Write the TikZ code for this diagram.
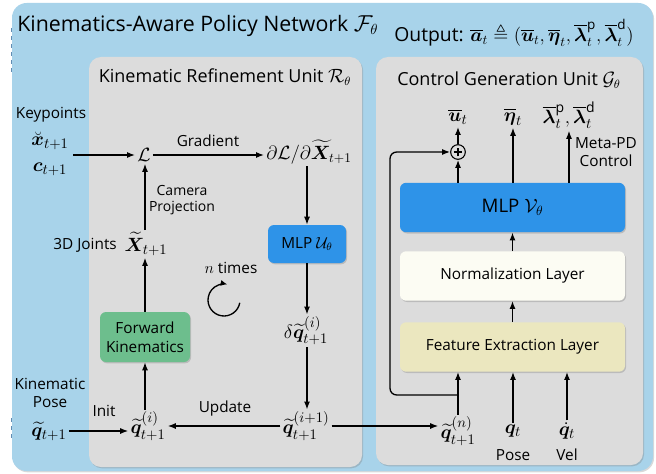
\documentclass[tikz,border=0pt]{standalone}
\usepackage{amsmath,amssymb,bm}
\usepackage{fontspec}
\setmainfont{Open Sans}
\usetikzlibrary{arrows.meta,shadows,calc}

\definecolor{outerblue}{HTML}{A8D3EA}
\definecolor{panelgray}{HTML}{DCDCDC}
\definecolor{mlpblue}{HTML}{2E93E8}
\definecolor{fkgreen}{HTML}{6DBE8D}
\definecolor{normcream}{HTML}{FCFCF3}
\definecolor{featyellow}{HTML}{EBE7BF}
\definecolor{dashblue}{HTML}{3A6FA0}

\newcommand{\tq}{\widetilde{\bm q}}
\newcommand{\ob}[1]{\overline{\bm #1}}

\tikzset{
  every node/.style={font=\fontsize{11.5}{13.5}\selectfont, inner sep=1.5pt},
  mathnode/.style={font=\fontsize{15}{17}\selectfont},
  arr/.style={line width=1pt, -{Latex[length=6pt,width=4.5pt]}},
  panel/.style={fill=panelgray, draw=none, rounded corners=9pt,
    drop shadow={opacity=0.35, shadow xshift=0.8pt, shadow yshift=-1pt}},
  block/.style={draw=none, rounded corners=4.5pt, align=center,
    drop shadow={opacity=0.35, shadow xshift=0.8pt, shadow yshift=-1pt}},
  layer/.style={block, minimum width=168.75pt, minimum height=37pt},
  boxfont/.style={font=\fontsize{11.5}{14}\selectfont},
}

\begin{document}
\begin{tikzpicture}[x=0.75pt, y=-0.75pt]
\useasboundingbox (0,0) rectangle (656,474);

% outer frame
\draw[dashblue!80, dashed, line width=0.7pt] (11,28) -- (11,72);
\draw[dashblue!80, dashed, line width=0.7pt] (11,418) -- (11,442);
\fill[outerblue, rounded corners=11pt,
  drop shadow={opacity=0.3, shadow xshift=0.8pt, shadow yshift=-1pt}]
  (12,3) rectangle (653,471);
\node[anchor=west, font=\fontsize{16}{19}\selectfont] (title) at (15,26)
  {Kinematics-Aware Policy Network $\mathcal{F}_\theta$};
\node[font=\fontsize{14.5}{16}\selectfont] (output) at (514,33)
  {Output: $\ob{a}_t \triangleq (\ob{u}_t, \ob{\eta}_t, \ob{\lambda}^{\mathrm{p}}_t, \ob{\lambda}^{\mathrm{d}}_t)$};

% panels
\path[panel] (89,57) rectangle (362,467);
\path[panel] (376,57) rectangle (643,465);
\node[font=\fontsize{13.5}{15}\selectfont] (rtitle) at (225,77)
  {Kinematic Refinement Unit $\mathcal{R}_\theta$};
\node[font=\fontsize{13.5}{15}\selectfont] (gtitle) at (509,80)
  {Control Generation Unit $\mathcal{G}_\theta$};

% ---- Kinematic refinement unit ----
\node (kplabel) at (51,115) {Keypoints};
\node[mathnode] (xk) at (50,141) {$\breve{\bm x}_{t+1}$};
\node[mathnode] (ck) at (50,169) {$\bm c_{t+1}$};
\coordinate (kpout) at (73,155);
\node[mathnode] (L) at (144,155) {$\mathcal{L}$};
\node[font=\fontsize{14.5}{16}\selectfont] (dLdX) at (309,152) {$\partial\mathcal{L}/\partial\widetilde{\bm X}_{t+1}$};
\node (gradlbl) at (208,141) {Gradient};
\node[block, fill=mlpblue, minimum width=58.5pt, minimum height=28.5pt, boxfont]
  (mlpU) at (307,244) {MLP $\mathcal{U}_\theta$};
\node[mathnode] (dq) at (306,331) {$\delta\tq^{(i)}_{t+1}$};
\node[mathnode] (qip1) at (306,426) {$\tq^{(i+1)}_{t+1}$};
\node[mathnode] (qi) at (148,426) {$\tq^{(i)}_{t+1}$};
\node[mathnode] (qinit) at (49,431) {$\tq_{t+1}$};
\node[align=center] (poselbl) at (50,393) {Kinematic\\Pose};
\node (initlbl) at (104,411) {Init};
\node (updlbl) at (225,409) {Update};
\node[block, fill=fkgreen, minimum width=67.5pt, minimum height=37.5pt, boxfont]
  (fk) at (145,337) {Forward\\Kinematics};
\node[mathnode] (X) at (146,244) {$\widetilde{\bm X}_{t+1}$};
\node[anchor=east] (jlbl) at (119,245) {3D Joints};
\node[align=center, font=\fontsize{10.5}{12.5}\selectfont] (camlbl) at (182,200) {Camera\\Projection};
\node (ntimes) at (231,268) {$n$ times};
\coordinate (loopc) at (224,300);
\draw[line width=1pt, -{Latex[length=5pt,width=4.5pt]}]
  ([shift={(10:16)}]loopc) arc[start angle=10, end angle=282, radius=16];

\draw[arr] (kpout) -- (L.west |- kpout);
\draw[arr] (L.east) -- (dLdX.west |- L);
\draw[arr] (mlpU.north |- dLdX.south) -- (mlpU.north);
\draw[arr] (mlpU.south) -- (mlpU.south |- dq.north);
\draw[arr] (mlpU.south |- dq.south) -- (mlpU.south |- qip1.north);
\draw[arr] (qip1.west) -- (qi.east);
\draw[arr] (qinit.east) -- (qi.west |- qinit.east);
\draw[arr] (fk.south |- qi.north) -- (fk.south);
\draw[arr] (fk.north) -- (fk.north |- X.south);
\draw[arr] (fk.north |- X.north) -- (fk.north |- L.south);

% ---- Control generation unit ----
\node[layer, fill=mlpblue, font=\fontsize{14}{16}\selectfont] (mlpV) at (512.5,207.5) {MLP $\mathcal{V}_\theta$};
\node[layer, fill=normcream, boxfont] (norm) at (512.5,276) {Normalization Layer};
\node[layer, fill=featyellow, boxfont] (feat) at (512.5,347) {Feature Extraction Layer};

\node[draw, circle, line width=0.8pt, minimum size=11pt, inner sep=0pt] (plus) at (458,152) {};
\draw[line width=0.8pt] ($(plus.center)+(-3.3pt,0)$) -- ($(plus.center)+(3.3pt,0)$)
  ($(plus.center)+(0,-3.3pt)$) -- ($(plus.center)+(0,3.3pt)$);
\node[mathnode] (uout) at (458,117) {$\ob{u}_t$};
\node[mathnode] (etaout) at (513,117) {$\ob{\eta}_t$};
\node[mathnode] (lamout) at (569,115) {$\ob{\lambda}^{\mathrm{p}}_t, \ob{\lambda}^{\mathrm{d}}_t$};
\node[align=center] (metapd) at (606,152) {Meta-PD\\Control};

\node[mathnode] (qn) at (458,431) {$\tq^{(n)}_{t+1}$};
\node[mathnode] (qt) at (513,431) {$\bm q_t$};
\node[mathnode] (qdot) at (567,431) {$\dot{\bm q}_t$};
\node (poselbl2) at (513,455) {Pose};
\node (vellbl) at (567,455) {Vel};

\draw[arr] (qip1.east) -- (qn.west |- qip1.east);
\draw[arr] (qn.north) -- (qn.north |- feat.south);
\draw[arr] (qt.north) -- (qt.north |- feat.south);
\draw[arr] (qdot.north) -- (qdot.north |- feat.south);
\draw[arr] (feat.north) -- (norm.south);
\draw[arr] (norm.north) -- (mlpV.south);
\draw[arr] (plus.south |- mlpV.north) -- (plus.south);
\draw[arr] (plus.north) -- (uout.south);
\draw[arr] (etaout.south |- mlpV.north) -- (etaout.south);
\draw[arr] (lamout.south |- mlpV.north) -- (lamout.south);

\coordinate (skip) at (458,395);
\draw[arr, rounded corners=5pt] (skip) -- (390,395) -- (390,152) -- (plus.west);
\end{tikzpicture}
\end{document}
